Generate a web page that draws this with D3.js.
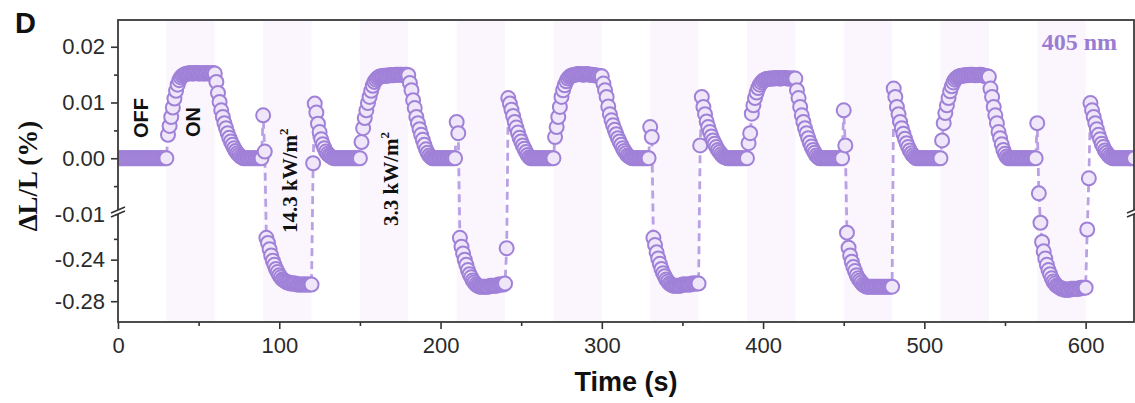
<!DOCTYPE html>
<html lang="en">
<head>
<meta charset="utf-8">
<title>ΔL/L vs time</title>
<script src="https://cdnjs.cloudflare.com/ajax/libs/d3/7.8.5/d3.min.js"></script>
<style>
  body { margin: 0; background: #fff; }
  svg { display: block; }
  .tick text { font-family: "Liberation Sans", Arial, sans-serif; font-size: 22px; fill: #2a2a2a; }
  .tick line { stroke: #333; stroke-width: 1.6; }
  .band { fill: #fbf6fe; }
  .frame { fill: none; stroke: #3a3a3a; stroke-width: 1.8; }
  .trace { fill: none; stroke: #b9a1e4; stroke-width: 2.8; stroke-dasharray: 8,5; }
  .dot { fill: #efe7f9; stroke: #a081d8; stroke-width: 2; }
  .sans-bold { font-family: "Liberation Sans", Arial, sans-serif; font-weight: bold; fill: #111; }
  .serif-bold { font-family: "Liberation Serif", "Times New Roman", serif; font-weight: bold; fill: #111; }
</style>
</head>
<body>
<script>
// time axis, seconds; each run starts at cycleStart[k] and has one point per second
var cycleStart = [0, 121, 241, 361, 481, 601];

var cycle0 = [0,0,0,0,0,0,0,0,0,0,0,0,0,0,0,0,0,0,0,0,0,0,0,0,0,0,0,0,0,0,0,
  .0042,.0058,.0074,.0091,.0107,.0121,.0132,.014,.0145,.0148,.015,.0151,
  .0152,.0152,.0153,.0152,.0152,.0153,.0153,.0152,.0152,.0153,.0152,.0152,.0153,.0152,.0152,.0152,.0153,.0152,
  .0137,.0117,.0101,.0086,.0074,.0063,.0054,.0045,.0037,.003,.0024,.0018,.0013,.0009,.0006,.0003,.0001,
  0,0,0,0,0,0,0,0,0,0,0,0,
  .0077,.0012,
  -.219,-.224,-.23,-.236,-.241,-.245,-.249,-.252,-.255,-.257,-.259,-.26,-.261,-.262,-.262,-.263,-.263,-.263,-.263,-.264,-.264,-.264,-.264,-.264,-.264,-.264,-.264,-.264,-.264];

var cycle1 = [-.0009,
  .0098,.0082,.0062,.0047,.0034,.0025,.0018,.0012,.0008,.0005,.0003,.0001,
  0,0,0,0,0,0,0,0,0,0,0,0,0,0,0,0,0,
  .0029,.0054,.0072,.0086,.0099,.011,.0121,.013,.0137,.0141,.0144,.0146,
  .0147,.0147,.0148,.0148,.0148,.0149,.0149,.0149,.0149,.015,.015,.015,.015,.015,.0149,.015,.015,.0149,
  .0135,.0122,.0104,.009,.0074,.0063,.0052,.0042,.0033,.0024,.0016,.001,.0005,.0002,
  0,0,0,0,0,0,0,0,0,0,0,0,0,0,0,
  .0065,.0045,
  -.219,-.2275,-.234,-.24,-.245,-.25,-.254,-.257,-.26,-.262,-.264,-.265,-.266,-.266,-.266,-.266,-.266,-.266,-.266,-.265,-.265,-.265,-.265,-.265,-.264,-.264,-.264,-.264,-.263];

var cycle2 = [-.229,
  .0108,.0098,.0087,.0076,.0065,.0055,.0046,.0037,.003,.0023,.0017,.0011,.0006,.0002,
  0,0,0,0,0,0,0,0,0,0,0,0,0,0,0,
  .0038,.0056,.0074,.0092,.011,.0122,.0131,.0138,.0143,.0146,.0148,.0149,.015,
  .015,.0151,.0151,.0151,.015,.015,.0151,.0151,.015,.015,.015,.0149,.0149,.0148,.0148,.0147,.0147,
  .0134,.0122,.011,.0093,.0079,.0068,.0059,.0051,.0043,.0036,.003,.0024,.0018,.0013,.0009,.0005,.0003,.0001,
  0,0,0,0,0,0,0,0,0,0,0,
  .0056,.0038,
  -.219,-.226,-.233,-.239,-.244,-.249,-.253,-.256,-.259,-.261,-.263,-.264,-.265,-.265,-.265,-.265,-.265,-.265,-.264,-.264,-.264,-.264,-.264,-.264,-.263,-.263,-.263,-.263,-.263];

var cycle3 = [.0023,
  .011,.0092,.0079,.0066,.0056,.0047,.0039,.0032,.0026,.002,.0015,.0011,.0007,.0004,.0002,.0001,
  0,0,0,0,0,0,0,0,0,0,0,0,0,
  .0027,.0045,.008,.0095,.0108,.0118,.0126,.0132,.0136,.0139,.0141,.0142,
  .0142,.0143,.0143,.0143,.0143,.0144,.0144,.0143,.0143,.0144,.0144,.0144,.0143,.0143,.0143,.0143,.0143,.0143,
  .0122,.0108,.0092,.0077,.0065,.0054,.0045,.0036,.0028,.0021,.0015,.001,.0005,.0002,
  0,0,0,0,0,0,0,0,0,0,0,0,0,0,0,
  .0086,.0023,
  -.214,-.2285,-.236,-.242,-.247,-.251,-.255,-.258,-.26,-.262,-.264,-.265,-.266,-.266,-.266,-.266,-.266,-.266,-.266,-.266,-.266,-.266,-.266,-.266,-.266,-.266,-.266,-.266,-.266];

var cycle4 = [.0125,.011,.0092,.0079,.0065,.0054,.0044,.0035,.0027,.002,.0014,.0009,.0005,.0002,
  0,0,0,0,0,0,0,0,0,0,0,0,0,0,0,0,
  .0032,.0063,.0081,.0095,.0108,.012,.0129,.0136,.0141,.0144,.0146,.0147,
  .0148,.0148,.0149,.0149,.0149,.015,.015,.015,.0149,.0149,.0149,.015,.015,.0149,.0148,.0147,.0147,.0146,
  .0125,.011,.0092,.0077,.0063,.0047,.0036,.0025,.0015,.0008,.0003,
  0,0,0,0,0,0,0,0,0,0,0,0,0,0,0,0,0,0,
  .0063,-.0063,
  -.2045,-.223,-.232,-.239,-.245,-.25,-.254,-.258,-.261,-.263,-.265,-.266,-.267,-.268,-.268,-.269,-.269,-.269,-.269,-.268,-.268,-.268,-.268,-.268,-.268,-.267,-.267,-.267,-.267];

var cycle5 = [-.211,-.0036,
  .0099,.0086,.0074,.0063,.0052,.0042,.0034,.0026,.002,.0014,.001,.0006,.0003,.0001,
  0,0,0,0,0,0,0,0,0,0,0,0,0,0];

// light-on windows (s)
var bandStart = [30, 90, 150, 210, 270, 330, 390, 450, 510, 570];
var bandLength = 30;

var xTicks = [0, 100, 200, 300, 400, 500, 600];
var xMinor = [50, 150, 250, 350, 450, 550];
var yTopTicks = [0.02, 0.01, 0.00, -0.01];
var yTopMinor = [0.015, 0.005, -0.005];
var yBotTicks = [-0.24, -0.28];
var yBotMinor = [-0.22, -0.26];

var width = 1135, height = 403;
var plotL = 118, plotR = 1134, plotT = 20, plotB = 322;
var breakY = 213;

var svg = d3.select('body').append('svg')
  .attr('width', width)
  .attr('height', height);

var x = d3.scaleLinear().domain([0, 630]).range([plotL, plotR]);
var yTop = d3.scaleLinear().domain([-0.01, 0.0248]).range([214, plotT]);
var yBot = d3.scaleLinear().domain([-0.30, -0.198]).range([plotB, 216]);
function yPos(v) { return v > -0.1 ? yTop(v) : yBot(v); }

var points = [];
[cycle0, cycle1, cycle2, cycle3, cycle4, cycle5].forEach(function(arr, k){
  arr.forEach(function(v, i){ points.push({t: cycleStart[k] + i, v: v}); });
});

svg.append('clipPath').attr('id', 'plot-clip')
  .append('rect')
  .attr('x', plotL).attr('y', plotT)
  .attr('width', plotR - plotL).attr('height', plotB - plotT);

// shaded light-on windows
svg.append('g').selectAll('rect')
  .data(bandStart)
  .enter()
  .append('rect')
  .attr('class', 'band')
  .attr('x', function(d){ return x(d); })
  .attr('y', plotT)
  .attr('width', function(d){ return x(d + bandLength) - x(d); })
  .attr('height', plotB - plotT);

var plot = svg.append('g').attr('clip-path', 'url(#plot-clip)');

plot.append('path')
  .datum(points)
  .attr('class', 'trace')
  .attr('d', d3.line()
    .x(function(d){ return x(d.t); })
    .y(function(d){ return yPos(d.v); }));

plot.selectAll('.dot')
  .data(points)
  .enter()
  .append('circle')
  .attr('class', 'dot')
  .attr('cx', function(d){ return x(d.t); })
  .attr('cy', function(d){ return yPos(d.v); })
  .attr('r', 7);

// axes
function fmt(d){ return d.toFixed(2); }

svg.append('g')
  .attr('transform', 'translate(0,' + plotB + ')')
  .call(d3.axisBottom(x).tickValues(xTicks).tickSize(7).tickPadding(8).tickFormat(d3.format('d')))
  .call(function(g){ g.select('.domain').remove(); });
svg.append('g')
  .attr('transform', 'translate(0,' + plotB + ')')
  .call(d3.axisBottom(x).tickValues(xMinor).tickSize(4).tickFormat(''))
  .call(function(g){ g.select('.domain').remove(); });

svg.append('g')
  .attr('transform', 'translate(' + plotL + ',0)')
  .call(d3.axisLeft(yTop).tickValues(yTopTicks).tickSize(7).tickPadding(6).tickFormat(fmt))
  .call(function(g){ g.select('.domain').remove(); });
svg.append('g')
  .attr('transform', 'translate(' + plotL + ',0)')
  .call(d3.axisLeft(yTop).tickValues(yTopMinor).tickSize(4).tickFormat(''))
  .call(function(g){ g.select('.domain').remove(); });
svg.append('g')
  .attr('transform', 'translate(' + plotL + ',0)')
  .call(d3.axisLeft(yBot).tickValues(yBotTicks).tickSize(7).tickPadding(6).tickFormat(fmt))
  .call(function(g){ g.select('.domain').remove(); });
svg.append('g')
  .attr('transform', 'translate(' + plotL + ',0)')
  .call(d3.axisLeft(yBot).tickValues(yBotMinor).tickSize(4).tickFormat(''))
  .call(function(g){ g.select('.domain').remove(); });

svg.append('rect')
  .attr('class', 'frame')
  .attr('x', plotL).attr('y', plotT)
  .attr('width', plotR - plotL).attr('height', plotB - plotT);

// axis break marks
[plotL, plotR].forEach(function(bx){
  var g = svg.append('g').attr('transform', 'translate(' + bx + ',' + breakY + ')');
  g.append('path').attr('d', 'M-7,4 L7,-2 L7,-6 L-7,0 Z').attr('fill', '#fff');
  g.append('line').attr('x1', -7).attr('y1', 4).attr('x2', 7).attr('y2', -2)
    .attr('stroke', '#333').attr('stroke-width', 1.5);
  g.append('line').attr('x1', -7).attr('y1', 0).attr('x2', 7).attr('y2', -6)
    .attr('stroke', '#333').attr('stroke-width', 1.5);
});

// labels
svg.append('text').attr('class', 'sans-bold')
  .attr('x', 15).attr('y', 33)
  .style('font-size', '29px')
  .text('D');

svg.append('text').attr('class', 'sans-bold')
  .attr('x', (plotL + plotR) / 2).attr('y', 391)
  .attr('text-anchor', 'middle')
  .style('font-size', '27px')
  .text('Time (s)');

svg.append('text').attr('class', 'serif-bold')
  .attr('transform', 'translate(37,176) rotate(-90)')
  .attr('text-anchor', 'middle')
  .style('font-size', '27px')
  .text('ΔL/L (%)');

svg.append('text').attr('class', 'serif-bold')
  .attr('x', 1117).attr('y', 50)
  .attr('text-anchor', 'end')
  .style('font-size', '24px')
  .style('fill', '#9a7cd2')
  .text('405 nm');

svg.append('text').attr('class', 'sans-bold')
  .attr('transform', 'translate(148,138) rotate(-90)')
  .style('font-size', '20px')
  .text('OFF');
svg.append('text').attr('class', 'sans-bold')
  .attr('transform', 'translate(200,137) rotate(-90)')
  .style('font-size', '20px')
  .text('ON');

function powerLabel(px, py, label){
  var t = svg.append('text').attr('class', 'serif-bold')
    .attr('transform', 'translate(' + px + ',' + py + ') rotate(-90)')
    .style('font-size', '21px');
  t.append('tspan').text(label + ' kW/m');
  t.append('tspan').attr('dy', -9).style('font-size', '13px').text('2');
}
powerLabel(297, 233, '14.3');
powerLabel(398, 226, '3.3');
</script>
</body>
</html>
